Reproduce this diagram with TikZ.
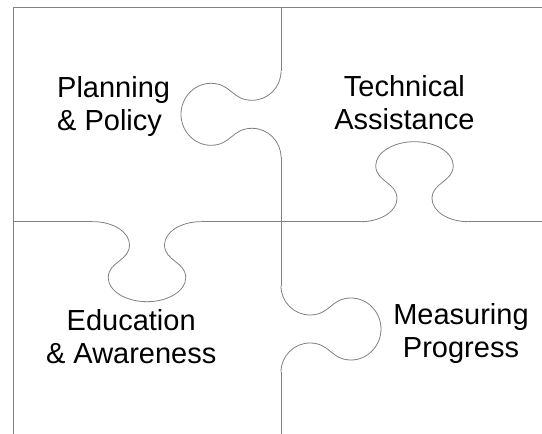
\documentclass[tikz,border=0pt]{standalone}
\usepackage{fontspec}
\setmainfont{Liberation Sans}
\usetikzlibrary{positioning}
\tikzset{piece/.style={draw=black!50,line width=0.8pt},
         label/.style={draw=none,inner sep=0pt,font=\fontsize{29}{33}\selectfont},
         tab/.pic={\draw[piece] (-43,0) .. controls (-27,0) and (-14,13) .. (-14,29)
                     .. controls (-14,49) and (-31,50) .. (-31,70)
                     .. controls (-31,86.5) and (-17,100) .. (0,100)
                     .. controls (17,100) and (31,86.5) .. (31,70)
                     .. controls (31,50) and (14,49) .. (14,29)
                     .. controls (14,13) and (27,0) .. (43,0);}
}

\begin{document}
\begin{tikzpicture}[x=1pt,y=1pt]
\useasboundingbox (0,0) rectangle (542,434);

\node[label,anchor=west,align=left] (planning) at (57,327.8) {Planning\\\& Policy};
\node[label,align=center] (technical) at (404.4,331.5) {Technical\\Assistance};
\node[label,align=center] (education) at (131.2,97.5) {Education\\\& Awareness};
\node[label,align=center] (measuring) at (461,100) {Measuring\\Progress};

% outer border
\draw[piece] (13.3,0) -- (13.3,427) -- (542,427);
% vertical cut
\draw[piece] (281,427) -- (281,362.7);
\pic[rotate=90] at (281,319.7) {tab};
\draw[piece] (281,276.7) -- (281,148);
\pic[rotate=-90] at (281,105) {tab};
\draw[piece] (281,62) -- (281,0);
% horizontal cut
\draw[piece] (13.3,212.3) -- (93.25,212.3);
\pic[rotate=180,xscale=1.25,yscale=0.8] at (147,212.3) {tab};
\draw[piece] (200.75,212.3) -- (360.75,212.3);
\pic[xscale=1.25,yscale=0.8] at (414.5,212.3) {tab};
\draw[piece] (468.25,212.3) -- (542,212.3);

\end{tikzpicture}
\end{document}
